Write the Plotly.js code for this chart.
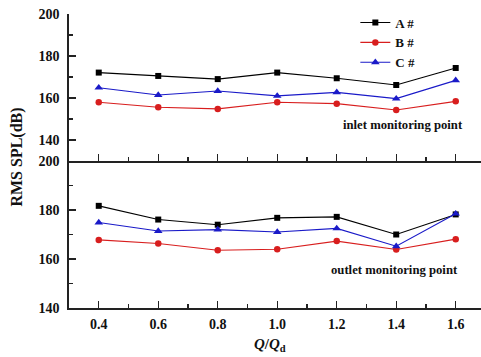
<!DOCTYPE html>
<html>
<head>
<meta charset="utf-8">
<script src="https://cdn.plot.ly/plotly-3.0.1.min.js"></script>
<style>
  html, body { margin: 0; padding: 0; background: #fff; }
  #chart { width: 481px; height: 357px; }
</style>
</head>
<body>
<div id="chart"></div>
<script>
// Flow-rate ratio Q/Qd
const flowRatio = [0.4, 0.6, 0.8, 1.0, 1.2, 1.4, 1.6];

// RMS sound pressure level (dB) at the inlet monitoring point
const inletA = [172.1, 170.5, 169.0, 172.1, 169.4, 166.2, 174.3];
const inletB = [158.0, 155.6, 154.8, 158.0, 157.3, 154.3, 158.4];
const inletC = [164.9, 161.4, 163.3, 161.0, 162.7, 159.7, 168.4];

// RMS sound pressure level (dB) at the outlet monitoring point
const outletA = [181.7, 176.1, 174.0, 176.8, 177.2, 170.0, 178.2];
const outletB = [167.8, 166.3, 163.6, 164.0, 167.3, 163.9, 168.1];
const outletC = [174.9, 171.4, 172.0, 171.0, 172.5, 165.2, 178.5];

const seriesNames = ['A #', 'B #', 'C #'];
const xTicks = [0.4, 0.6, 0.8, 1.0, 1.2, 1.4, 1.6];
const xTickText = ['0.4', '0.6', '0.8', '1.0', '1.2', '1.4', '1.6'];
const yTicks = [140, 160, 180, 200];

const colors = ['#000000', '#d81e1e', '#1a1ac8'];
const symbols = ['square', 'circle', 'triangle-up'];
const markerSizes = [6, 6.5, 7.5];

const serif = 'Liberation Serif, Times New Roman, serif';

function makeTrace(y, i, xa, ya, legend) {
  return {
    x: flowRatio, y: y, name: seriesNames[i],
    xaxis: xa, yaxis: ya,
    type: 'scatter', mode: 'lines+markers',
    line: { color: colors[i], width: 1.1 },
    marker: { color: colors[i], symbol: symbols[i], size: markerSizes[i] },
    showlegend: legend
  };
}

const traces = [
  makeTrace(inletA, 0, 'x2', 'y2', true),
  makeTrace(inletB, 1, 'x2', 'y2', true),
  makeTrace(inletC, 2, 'x2', 'y2', true),
  makeTrace(outletA, 0, 'x', 'y', false),
  makeTrace(outletB, 1, 'x', 'y', false),
  makeTrace(outletC, 2, 'x', 'y', false)
];

const tickFont = { family: serif, size: 14, color: '#111', weight: 'bold' };

const xBase = {
  range: [0.3, 1.685],
  tickvals: xTicks, ticktext: xTickText,
  ticks: 'inside', ticklen: 7, tickwidth: 1.3, tickcolor: '#222',
  minor: { ticks: 'inside', ticklen: 4, tickwidth: 1.1, tickcolor: '#222', dtick: 0.1, tick0: 0.3, showgrid: false },
  showline: true, linecolor: '#222', linewidth: 1.6,
  showgrid: false, zeroline: false,
  tickfont: tickFont
};

const yBase = {
  tickvals: yTicks,
  ticks: 'inside', ticklen: 7, tickwidth: 1.3, tickcolor: '#222',
  minor: { ticks: 'inside', ticklen: 4, tickwidth: 1.1, tickcolor: '#222', dtick: 10, tick0: 130, showgrid: false },
  showline: true, linecolor: '#222', linewidth: 1.6,
  showgrid: false, zeroline: false,
  tickfont: tickFont,
  ticklabelstandoff: 5
};

const layout = {
  width: 481, height: 357,
  margin: { l: 69, r: 0, t: 14, b: 49 },
  paper_bgcolor: '#ffffff', plot_bgcolor: '#ffffff',
  font: { family: serif, color: '#111' },
  xaxis: Object.assign({}, xBase, { anchor: 'y', domain: [0, 1], ticklabelstandoff: 3 }),
  xaxis2: Object.assign({}, xBase, { anchor: 'y2', domain: [0, 1], matches: 'x', showticklabels: false }),
  yaxis: Object.assign({}, yBase, { anchor: 'x', domain: [0, 0.5], range: [140, 200] }),
  yaxis2: Object.assign({}, yBase, { anchor: 'x2', domain: [0.5, 1], range: [130, 200] }),
  legend: {
    x: 0.695, y: 1.022, xanchor: 'left', yanchor: 'top',
    bgcolor: 'rgba(0,0,0,0)',
    font: { family: serif, size: 13, color: '#111', weight: 'bold' },
    tracegroupgap: 0, itemwidth: 30
  },
  annotations: [
    { text: '<b>inlet monitoring point</b>', xref: 'paper', yref: 'paper',
      x: 0.811, y: 0.622, showarrow: false, xanchor: 'center', yanchor: 'middle',
      font: { family: serif, size: 12.7, color: '#111' } },
    { text: '<b>outlet monitoring point</b>', xref: 'paper', yref: 'paper',
      x: 0.789, y: 0.129, showarrow: false, xanchor: 'center', yanchor: 'middle',
      font: { family: serif, size: 12.7, color: '#111' } },
    { text: '<b>RMS SPL(dB)</b>', xref: 'paper', yref: 'paper',
      x: -0.126, y: 0.512, showarrow: false, textangle: -90, xanchor: 'center', yanchor: 'middle',
      font: { family: serif, size: 16, color: '#111' } },
    { text: '<b><i>Q</i>/<i>Q</i><sub>d</sub></b>', xref: 'paper', yref: 'paper',
      x: 0.488, y: -0.125, showarrow: false, xanchor: 'center', yanchor: 'middle',
      font: { family: serif, size: 15, color: '#111' } }
  ]
};

Plotly.newPlot('chart', traces, layout, { staticPlot: true, displayModeBar: false });
</script>
</body>
</html>
